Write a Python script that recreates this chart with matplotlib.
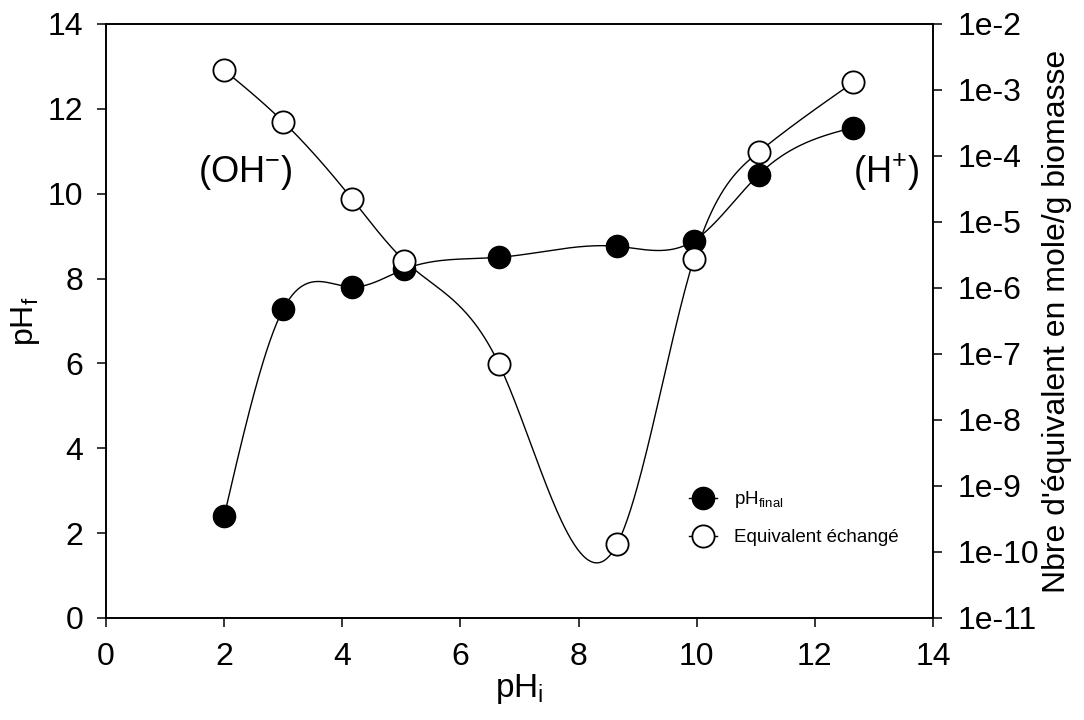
import numpy as np
import matplotlib
matplotlib.use("Agg")
import matplotlib.pyplot as plt

plt.rcParams['font.family'] = ['Liberation Sans', 'DejaVu Sans']
plt.rcParams['mathtext.fontset'] = 'custom'
plt.rcParams['mathtext.rm'] = 'Liberation Sans'
plt.rcParams['mathtext.it'] = 'Liberation Sans:italic'

# pH initial (x) for both series
ph_initial = [2.0, 3.0, 4.17, 5.05, 6.65, 8.65, 9.95, 11.05, 12.65]
# final pH (left axis)
ph_final = [2.4, 7.28, 7.8, 8.22, 8.5, 8.76, 8.89, 10.45, 11.56]
# exchanged equivalents, mole/g biomass (right axis, log)
equivalent = [2.0e-3, 3.3e-4, 2.2e-5, 2.6e-6, 7.1e-8, 1.3e-10, 2.75e-6, 1.15e-4, 1.3e-3]

right_ticks = [1e-2, 1e-3, 1e-4, 1e-5, 1e-6, 1e-7, 1e-8, 1e-9, 1e-10, 1e-11]
right_labels = ['1e-2', '1e-3', '1e-4', '1e-5', '1e-6', '1e-7', '1e-8', '1e-9', '1e-10', '1e-11']


def natural_spline(x, y, n=400):
    # plain natural cubic spline, good enough for the smooth curves
    x = np.asarray(x, float)
    y = np.asarray(y, float)
    k = len(x)
    h = np.diff(x)
    A = np.zeros((k, k))
    b = np.zeros(k)
    A[0, 0] = A[-1, -1] = 1
    for i in range(1, k - 1):
        A[i, i - 1] = h[i - 1]
        A[i, i] = 2 * (h[i - 1] + h[i])
        A[i, i + 1] = h[i]
        b[i] = 6 * ((y[i + 1] - y[i]) / h[i] - (y[i] - y[i - 1]) / h[i - 1])
    m = np.linalg.solve(A, b)
    xs = np.linspace(x[0], x[-1], n)
    idx = np.clip(np.searchsorted(x, xs) - 1, 0, k - 2)
    x0, x1 = x[idx], x[idx + 1]
    hh = x1 - x0
    t0, t1 = x1 - xs, xs - x0
    ys = (m[idx] * t0 ** 3 + m[idx + 1] * t1 ** 3) / (6 * hh) \
        + (y[idx] / hh - m[idx] * hh / 6) * t0 \
        + (y[idx + 1] / hh - m[idx + 1] * hh / 6) * t1
    return xs, ys


fig = plt.figure(figsize=(10.84, 7.2), dpi=100)
ax = fig.add_axes([0.0978, 0.1417, 0.7629, 0.825])
ax2 = ax.twinx()

ms = 16
xs, ys = natural_spline(ph_initial, ph_final)
ax.plot(xs, ys, color='black', lw=1.0, zorder=2)
ax.plot(ph_initial, ph_final, 'o', color='black', ms=ms, zorder=3)

xs2, ys2 = natural_spline(ph_initial, np.log10(equivalent))
ax2.plot(xs2, 10 ** ys2, color='black', lw=1.0, zorder=2)
ax2.plot(ph_initial, equivalent, 'o', mfc='white', mec='black', mew=1.3,
         ms=ms, zorder=3)

ax.set_xlim(0, 14)
ax.set_ylim(0, 14)
ax.set_xticks(range(0, 15, 2))
ax.set_yticks(range(0, 15, 2))
ax2.set_yscale('log')
ax2.set_ylim(1e-11, 1e-2)
ax2.set_yticks(right_ticks)
ax2.set_yticklabels(right_labels)
ax2.minorticks_off()

for a in (ax, ax2):
    for s in a.spines.values():
        s.set_linewidth(1.2)
    a.tick_params(direction='out', length=6.5, width=1.1, labelsize=23)
ax.tick_params(axis='x', pad=11)
ax.tick_params(axis='y', pad=10)
ax2.tick_params(axis='y', pad=11)

ax.set_xlabel(r'pH$_\mathrm{i}$', fontsize=24, labelpad=0)
ax.set_ylabel(r'pH$_\mathrm{f}$', fontsize=23, labelpad=4)
ax2.set_ylabel("Nbre d'équivalent en mole/g biomasse", fontsize=23, labelpad=2)

ax.text(2.35, 10.5, r'(OH$^{-}$)', fontsize=26, ha='center', va='center')
ax.text(13.2, 10.5, r'(H$^{+}$)', fontsize=26, ha='center', va='center')

h1l, = ax.plot([], [], '-o', color='black', lw=1.0, ms=ms)
h2l, = ax.plot([], [], '-o', color='black', mfc='white', mec='black', mew=1.3, lw=1.0, ms=ms)
ax2.legend([h1l, h2l], [r'pH$_\mathrm{final}$', 'Equivalent échangé'],
           loc='upper left', bbox_to_anchor=(0.685, 0.245), frameon=False,
           fontsize=13.5, handlelength=1.5, labelspacing=1.0, handletextpad=0.9)

fig.savefig('out.png', dpi=100)
